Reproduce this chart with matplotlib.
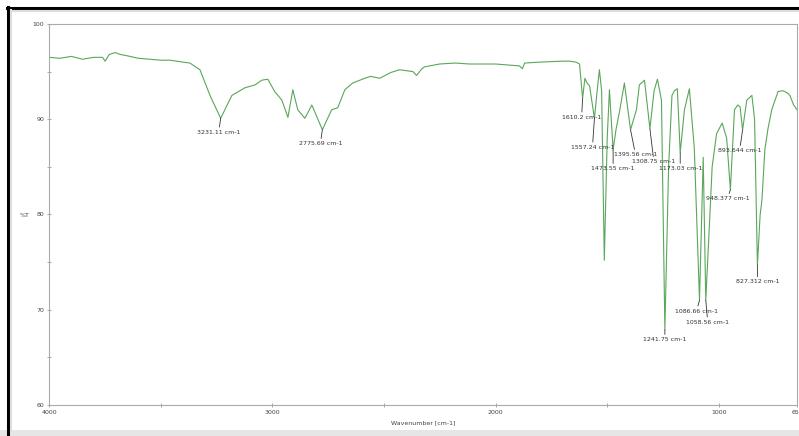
import matplotlib
matplotlib.use('Agg')
import matplotlib.pyplot as plt
from matplotlib.lines import Line2D
from matplotlib.patches import Rectangle

# IR spectrum (wavenumber in cm-1, transmittance in %T)
wavenumber = [4000, 3951, 3900, 3850, 3800, 3760, 3749, 3730, 3704, 3680,
              3637, 3600, 3548, 3500, 3458, 3400, 3369, 3324, 3279, 3231.11,
              3181, 3123, 3078, 3047, 3020, 2989, 2957, 2930, 2908, 2886,
              2854, 2823, 2775.69, 2734, 2707, 2675, 2640, 2586, 2560, 2519,
              2470, 2430, 2370, 2354, 2330, 2318, 2251, 2180, 2116, 2000,
              1893, 1880, 1870, 1800, 1700, 1669, 1640, 1624, 1610.2, 1600,
              1590, 1579, 1557.24, 1545, 1535, 1525, 1512.98, 1500, 1490, 1473.55,
              1460, 1445, 1423, 1395.56, 1369, 1356, 1333, 1308.75, 1290, 1275,
              1257, 1241.75, 1225, 1210, 1199, 1186, 1173.03, 1154, 1132, 1110,
              1086.66, 1070, 1058.56, 1040, 1030, 1010, 985, 965, 948.377, 930,
              915, 905, 893.644, 875, 852, 840, 827.312, 815, 807, 794,
              780, 763, 735, 715, 704, 690, 682, 665, 650]
transmittance = [96.5, 96.4, 96.6, 96.3, 96.5, 96.5, 96.1, 96.8, 97.0, 96.8,
                 96.6, 96.4, 96.3, 96.2, 96.2, 96.0, 95.9, 95.2, 92.5, 90.1,
                 92.5, 93.3, 93.6, 94.1, 94.2, 92.9, 92.0, 90.2, 93.1, 91.0,
                 90.1, 91.5, 88.9, 91.0, 91.2, 93.1, 93.8, 94.3, 94.5, 94.3,
                 94.9, 95.2, 95.0, 94.6, 95.3, 95.5, 95.8, 95.9, 95.8, 95.8,
                 95.6, 95.3, 95.9, 96.0, 96.1, 96.1, 96.0, 95.8, 92.2, 94.3,
                 93.8, 93.5, 90.1, 93.0, 95.2, 93.0, 75.2, 88.0, 93.1, 86.8,
                 89.0, 90.8, 93.8, 88.9, 91.0, 93.6, 94.1, 89.0, 93.0, 94.2,
                 92.0, 67.9, 85.0, 92.5, 93.0, 93.2, 86.5, 91.0, 93.2, 87.0,
                 71.0, 86.0, 71.0, 80.0, 85.0, 88.5, 89.6, 88.0, 82.6, 91.0,
                 91.5, 91.3, 88.9, 92.0, 92.5, 90.0, 74.7, 80.0, 81.5, 86.8,
                 89.0, 91.0, 92.9, 93.0, 92.9, 92.7, 92.5, 91.5, 91.0]

# labelled bands
peak_wn = [3231.11, 2775.69, 1610.2, 1557.24, 1473.55, 1395.56, 1308.75,
           1241.75, 1173.03, 1086.66, 1058.56, 948.377, 893.644, 827.312]
peak_labels = ['3231.11 cm-1', '2775.69 cm-1', '1610.2 cm-1', '1557.24 cm-1',
               '1473.55 cm-1', '1395.56 cm-1', '1308.75 cm-1', '1241.75 cm-1',
               '1173.03 cm-1', '1086.66 cm-1', '1058.56 cm-1', '948.377 cm-1',
               '893.644 cm-1', '827.312 cm-1']
# label offsets in pixels from the band minimum
label_offsets = [(-2, -14), (-2, -14), (-1, -19), (-2, -29), (0, -19), (5, -25),
                 (4, -33), (0, -10), (0, -16), (-3, -11), (2, -22), (-3, -9),
                 (-3, -21), (0, -17)]

fig = plt.figure(figsize=(7.99, 4.36), dpi=100)
ax = fig.add_axes([49 / 799, 31 / 436, 748 / 799, 381 / 436])

ax.plot(wavenumber, transmittance, color='#5aa65a', lw=0.8)

for wn, lab, (dx, dy) in zip(peak_wn, peak_labels, label_offsets):
    t = transmittance[wavenumber.index(wn)]
    ax.annotate(lab, xy=(wn, t), xytext=(dx, dy), textcoords='offset pixels',
                ha='center', va='center', fontsize=4.5, color='#333333',
                arrowprops=dict(arrowstyle='-', lw=0.6, color='#333333',
                                shrinkA=0, shrinkB=0))

ax.set_xlim(4000, 650)
ax.set_ylim(60, 100)
ax.set_xticks([4000, 3000, 2000, 1000, 650])
ax.set_xticks([3500, 2500, 1500], minor=True)
ax.set_yticks([60, 70, 80, 90, 100])
ax.set_yticks([65, 75, 85, 95], minor=True)
ax.tick_params(which='both', direction='inout', length=3, width=0.6,
               colors='#999999', labelcolor='#444444', labelsize=4.5, pad=2)
for s in ax.spines.values():
    s.set_color('#aaaaaa')
    s.set_linewidth(0.8)

ax.set_xlabel('Wavenumber [cm-1]', fontsize=4.5, color='#444444', labelpad=4)
fig.text(25 / 799, 1 - 215 / 436, '%T', fontsize=4.5, color='#444444',
         ha='center', va='center')

# window frame around the plot
fig.add_artist(Rectangle((0, 0), 1, 6 / 436, transform=fig.transFigure,
                         color='#e6e6e6', lw=0))
fig.add_artist(Line2D([7.5 / 799, 7.5 / 799], [0, 1 - 7 / 436],
                      transform=fig.transFigure, color='black', lw=2.2))
fig.add_artist(Line2D([6.5 / 799, 1], [1 - 8 / 436, 1 - 8 / 436],
                      transform=fig.transFigure, color='black', lw=2.2))
fig.add_artist(Line2D([11 / 799, 11 / 799], [6 / 436, 1 - 10 / 436],
                      transform=fig.transFigure, color='#dddddd', lw=1.5))
fig.add_artist(Line2D([11 / 799, 1], [1 - 11 / 436, 1 - 11 / 436],
                      transform=fig.transFigure, color='#dddddd', lw=1.5))

fig.savefig('out.png', dpi=100)
